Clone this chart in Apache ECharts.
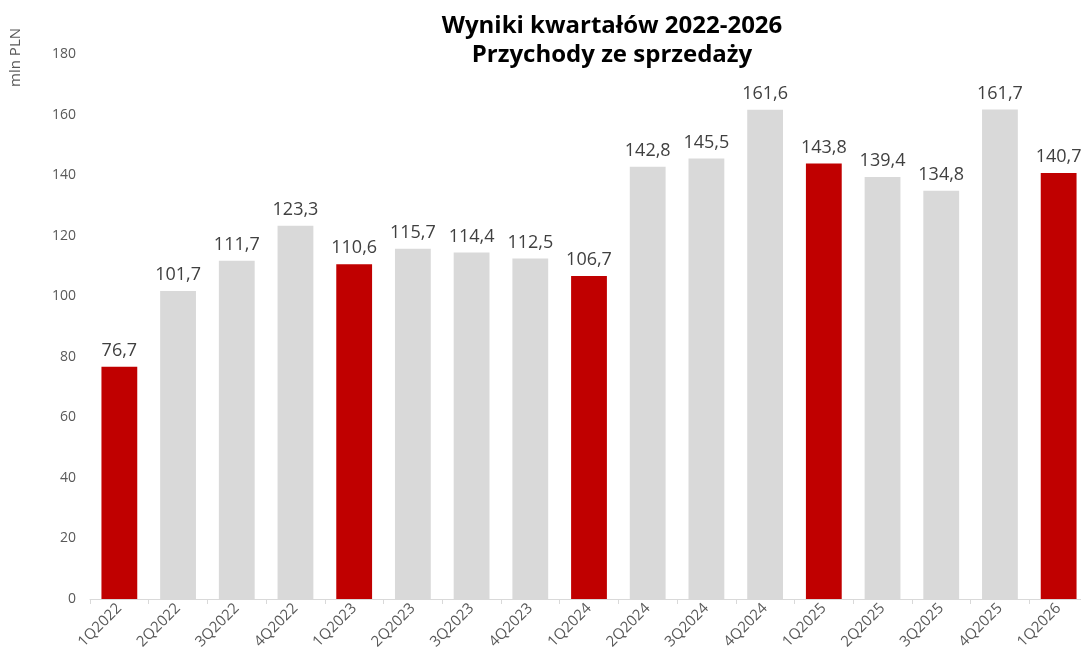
<!DOCTYPE html>
<html><head><meta charset="utf-8">
<script src="https://cdn.jsdelivr.net/npm/echarts@6/dist/echarts.min.js"></script>
<style>html,body{margin:0;padding:0;background:#fff;overflow:hidden;width:1081px;height:660px}#c{width:1088px;height:660px}</style>
</head><body><div id="c"></div>
<script>
const categories = ['1Q2022','2Q2022','3Q2022','4Q2022','1Q2023','2Q2023','3Q2023','4Q2023','1Q2024','2Q2024','3Q2024','4Q2024','1Q2025','2Q2025','3Q2025','4Q2025','1Q2026'];
const values = [76.7,101.7,111.7,123.3,110.6,115.7,114.4,112.5,106.7,142.8,145.5,161.6,143.8,139.4,134.8,161.7,140.7];
const highlighted = ['1Q2022','1Q2023','1Q2024','1Q2025','1Q2026'];
const yTicks = [0,20,40,60,80,100,120,140,160,180];
const FONT = '"Open Sans", sans-serif';
const chart = echarts.init(document.getElementById('c'));
chart.setOption({
  animation:false,
  title:{text:'Wyniki kwartałów 2022-2026\nPrzychody ze sprzedaży',left:607,top:7,textAlign:'center',
    textStyle:{fontFamily:FONT,fontWeight:'bold',fontSize:24,lineHeight:29,color:'#000'}},
  graphic:[{type:'text',left:8,top:28,rotation:Math.PI/2,style:{text:'mln PLN',fontFamily:FONT,fontSize:15,fill:'#595959'}}],
  grid:{left:90,right:0,top:54,bottom:61,containLabel:false},
  xAxis:{type:'category',data:categories,
    axisLine:{lineStyle:{color:'#d9d9d9'}},
    axisTick:{show:true,length:5,lineStyle:{color:'#d9d9d9'}},
    axisLabel:{rotate:45,fontFamily:FONT,fontSize:15,color:'#595959',margin:7,interval:0}},
  yAxis:{type:'value',min:0,max:180,interval:20,
    axisLine:{show:false},axisTick:{show:false},splitLine:{show:false},
    axisLabel:{fontFamily:FONT,fontSize:14,color:'#595959',margin:14,
      formatter:v=>yTicks.includes(v)?String(v):''}},
  series:[{type:'bar',barWidth:'61%',
    data:values.map((v,i)=>({value:v,itemStyle:{color:highlighted.includes(categories[i])?'#C00000':'#D9D9D9'}})),
    label:{show:true,position:'top',distance:7,fontFamily:FONT,fontSize:18,color:'#404040',
      formatter:p=>p.value.toFixed(1).replace('.',',')}}]
});
</script></body></html>
